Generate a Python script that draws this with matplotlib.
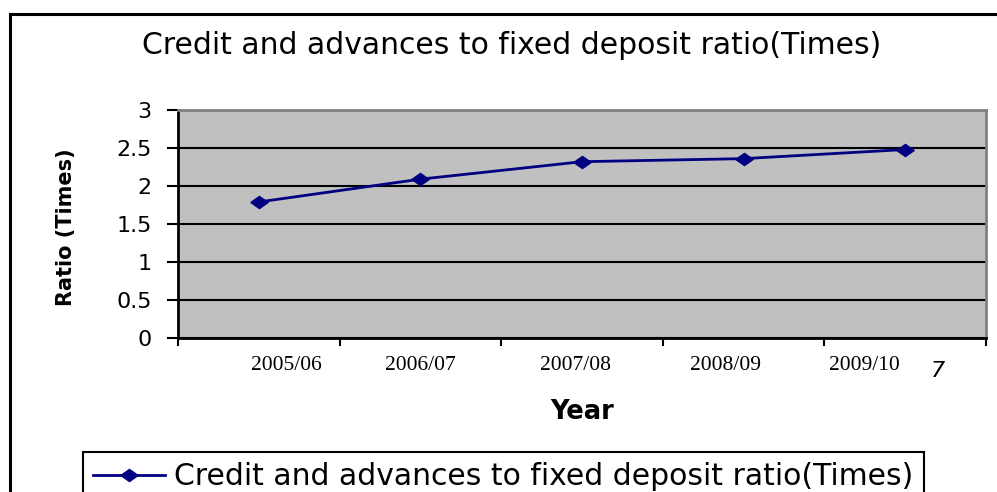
import numpy as np
import matplotlib.pyplot as plt
from matplotlib.lines import Line2D

# Chart data
years = ["2005/06", "2006/07", "2007/08", "2008/09", "2009/10"]
ratio = [1.79, 2.09, 2.32, 2.36, 2.48]
y_ticks = [0, 0.5, 1, 1.5, 2, 2.5, 3]
series_name = "Credit and advances to fixed deposit ratio(Times)"

# the year labels in the source sit a bit off their category centres
label_shift = [0.17, 0.0, -0.04, -0.11, -0.25]

plt.rcParams["font.family"] = ["DejaVu Sans"]

W, H = 997, 492
fig = plt.figure(figsize=(W / 100, H / 100), dpi=100)

# plot area in pixel terms
left, right, top, bottom = 178, 986, 110, 338
ax = fig.add_axes([left / W, 1 - bottom / H, (right - left) / W, (bottom - top) / H])
ax.set_facecolor("#C0C0C0")

x = np.arange(len(years))
diamond = [(-1, 0), (0, 0.7), (1, 0), (0, -0.7), (-1, 0)]
ax.plot(x, ratio, color="#000080", lw=2, marker=diamond, ms=12.5,
        mfc="#000080", mec="#000080", label=series_name, zorder=3)

ax.set_xlim(-0.5, len(years) - 0.5)
ax.set_ylim(0, 3)

# horizontal grid
ax.set_yticks(y_ticks)
ax.set_yticklabels([f"{v:g}" for v in y_ticks], fontsize=16)
ax.grid(axis="y", color="black", lw=1.5)
ax.set_axisbelow(True)
ax.tick_params(axis="y", direction="out", length=8, width=1.5, pad=11)

# x ticks at category boundaries, labels as minor ticks
ax.set_xticks(np.arange(len(years) + 1) - 0.5)
ax.set_xticklabels([])
ax.tick_params(axis="x", which="major", direction="out", length=6, width=1.5)
ax.set_xticks(x + np.array(label_shift), minor=True)
ax.set_xticklabels(years, minor=True, fontsize=15.5, family="Liberation Serif")
ax.tick_params(axis="x", which="minor", length=0, pad=13)

for s in ["left", "bottom"]:
    ax.spines[s].set_color("black")
    ax.spines[s].set_linewidth(2)
for s in ["top", "right"]:
    ax.spines[s].set_color("#808080")
    ax.spines[s].set_linewidth(2)

ax.set_ylabel("Ratio (Times)", fontsize=15, fontweight="bold", va="center")
ax.yaxis.set_label_coords((66 - left) / (right - left), (bottom - 227) / (bottom - top))
ax.set_xlabel("Year", fontsize=18.5, fontweight="bold", va="center")
ax.xaxis.set_label_coords((582 - left) / (right - left), (bottom - 412) / (bottom - top))

fig.text(512 / W, 1 - 46 / H, series_name, fontsize=21.5, ha="center", va="center")
fig.text(938 / W, 1 - 371 / H, "7", fontsize=16, ha="center", va="center", style="italic")

# outer chart frame (cut off at right and bottom)
fig.add_artist(Line2D([10 / W, 10 / W], [0, 1 - 14 / H], transform=fig.transFigure,
                      color="black", lw=2.2))
fig.add_artist(Line2D([10 / W, 1], [1 - 14 / H, 1 - 14 / H], transform=fig.transFigure,
                      color="black", lw=2.2))

leg = ax.legend(loc="upper left", bbox_to_anchor=(83 / W, 1 - 452 / H),
                bbox_transform=fig.transFigure, fontsize=21.5, frameon=True,
                fancybox=False, framealpha=1, edgecolor="black", borderaxespad=0,
                borderpad=0.35, handlelength=2.4, handletextpad=0.3)
leg.get_frame().set_linewidth(1.5)

fig.savefig("out.png", dpi=100)
